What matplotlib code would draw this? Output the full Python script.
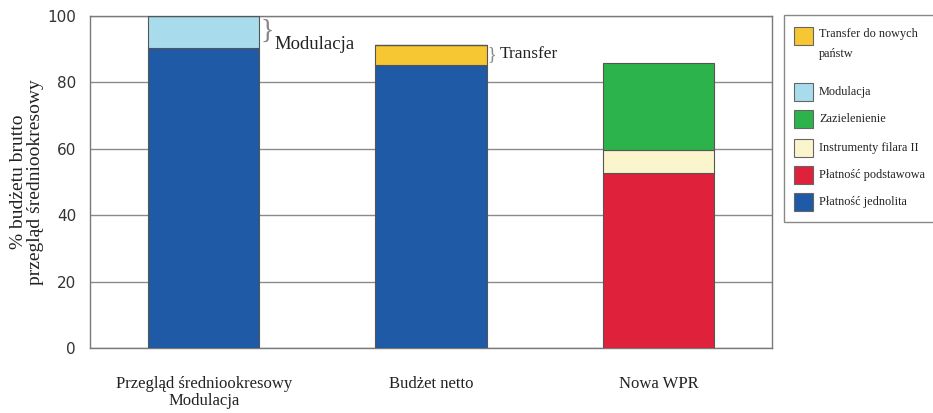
import matplotlib
matplotlib.use('Agg')
import matplotlib.pyplot as plt
from matplotlib.patches import Rectangle

# === Data ===
categories = ['Przegląd średniookresowy\nModulacja', 'Budżet netto', 'Nowa WPR']
platnosc_jednolita = [90.5, 85.3, 0]
modulacja = [9.5, 0, 0]
transfer = [0, 6.0, 0]
platnosc_podstawowa = [0, 0, 52.8]
instrumenty_filara = [0, 0, 6.8]
zazielenienie = [0, 0, 26.1]

series = [
    ('Płatność jednolita', platnosc_jednolita, '#1f5aa6'),
    ('Modulacja', modulacja, '#a8dcec'),
    ('Transfer do nowych\npaństw', transfer, '#f6c633'),
    ('Płatność podstawowa', platnosc_podstawowa, '#e0213b'),
    ('Instrumenty filara II', instrumenty_filara, '#fbf5cd'),
    ('Zazielenienie', zazielenienie, '#2db34b'),
]
colors = {name: c for name, _, c in series}

serif = 'Liberation Serif'

fig = plt.figure(figsize=(9.33, 4.13), dpi=100)
ax = fig.add_axes([90 / 933, 65 / 413, 682 / 933, 332 / 413])

x = list(range(len(categories)))
bottom = [0.0] * len(categories)
for name, vals, col in series:
    ax.bar(x, vals, width=0.49, bottom=bottom, color=col,
           edgecolor='#555555', linewidth=0.8, zorder=3)
    bottom = [b + v for b, v in zip(bottom, vals)]

ax.set_xlim(-0.5, 2.5)
ax.set_ylim(0, 100)
ax.set_yticks([0, 20, 40, 60, 80, 100])
ax.yaxis.grid(True, color='#8a8a8a', linewidth=1.0, zorder=0)
ax.set_axisbelow(True)
for s in ['left', 'top', 'right', 'bottom']:
    ax.spines[s].set_color('#7a7a7a')
    ax.spines[s].set_linewidth(1.0)
ax.tick_params(length=0, pad=10)
for lbl in ax.get_yticklabels():
    lbl.set_fontsize(11)
    lbl.set_color('#333333')
ax.set_xticks(x)
ax.set_xticklabels(categories, fontsize=12, family=serif, color='#222222',
                   linespacing=1.1)
ax.tick_params(axis='x', pad=20)
ax.set_ylabel('% budżetu brutto\nprzegląd średniookresowy', family=serif,
              fontsize=14, color='#222222', linespacing=0.95)
ax.yaxis.set_label_coords(-0.068, 0.5)

# Brace annotations
top0 = platnosc_jednolita[0] + modulacja[0]
ax.text(0.25, (platnosc_jednolita[0] + top0) / 2, '}', fontsize=20,
        color='#888888', va='center', ha='left', family=serif)
ax.text(0.31, platnosc_jednolita[0] + 1.0, 'Modulacja', fontsize=13.5,
        family=serif, va='center', ha='left', color='#222222')
top1 = platnosc_jednolita[1] + transfer[1]
ax.text(1.25, (platnosc_jednolita[1] + top1) / 2, '}', fontsize=13,
        color='#888888', va='center', ha='left', family=serif)
ax.text(1.30, (platnosc_jednolita[1] + top1) / 2 + 0.3, 'Transfer', fontsize=12.5,
        family=serif, va='center', ha='left', color='#222222')

# Legend box drawn manually
W, H = 933, 413
fig.patches.append(Rectangle((784 / W, 1 - 222 / H), 160 / W, 207 / H,
                             transform=fig.transFigure, facecolor='white',
                             edgecolor='#888888', linewidth=1.0))
legend_items = [
    ('Transfer do nowych\npaństw', 36, 44),
    ('Modulacja', 92, 92),
    ('Zazielenienie', 119, 119),
    ('Instrumenty filara II', 148, 148),
    ('Płatność podstawowa', 175, 175),
    ('Płatność jednolita', 202, 202),
]
for name, py, ty in legend_items:
    fig.patches.append(Rectangle((794 / W, 1 - (py + 9) / H), 19 / W, 18 / H,
                                 transform=fig.transFigure,
                                 facecolor=colors[name], edgecolor='#666666',
                                 linewidth=0.8))
    fig.text(819 / W, 1 - ty / H, name, family=serif, fontsize=8.8,
             va='center', ha='left', color='#222222', linespacing=1.9)

fig.savefig('out.png', dpi=100)
